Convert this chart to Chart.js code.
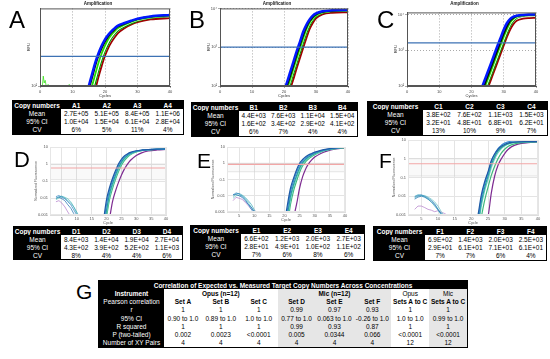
<!DOCTYPE html>
<html><head><meta charset="utf-8">
<script src="https://cdn.jsdelivr.net/npm/chart.js@4/dist/chart.umd.min.js"></script>
<style>
html,body{margin:0;padding:0;background:#fff;}
body{width:550px;height:359px;position:relative;overflow:hidden;font-family:Arial,"Liberation Sans",sans-serif;}
canvas{position:absolute;}
.letter{position:absolute;line-height:1;color:#000;z-index:5;font-family:Arial,"Liberation Sans",sans-serif;}
.grid{position:absolute;display:grid;background:#000;border:1px solid #000;box-sizing:border-box;font-size:6.5px;}
.c{display:flex;align-items:center;justify-content:center;white-space:nowrap;overflow:visible;}
.k{background:#000;color:#fff;}
.w{background:#fff;color:#000;}
.g{background:#e6e6e6;color:#000;}
.b{font-weight:bold;}
</style>
</head><body>
<canvas id="cA"></canvas><canvas id="cB"></canvas><canvas id="cC"></canvas>
<canvas id="cD"></canvas><canvas id="cE"></canvas><canvas id="cF"></canvas>
<div class="letter" style="left:9px;top:8px;font-size:24px">A</div>
<div class="letter" style="left:189px;top:8px;font-size:24px">B</div>
<div class="letter" style="left:377px;top:8px;font-size:24px">C</div>
<div class="letter" style="left:14px;top:149px;font-size:22px">D</div>
<div class="letter" style="left:197px;top:150px;font-size:21px">E</div>
<div class="letter" style="left:379px;top:150px;font-size:21px">F</div>
<div class="letter" style="left:76px;top:281px;font-size:21px">G</div>
<script>
// ---------- Panel A (RFU, log) ----------
const A_cycles = [14,15,16,17,18,19,20,21,22,23,24,26,28,30,34,40];
const A_blue  = [50,100,200,400,700,1100,1600,2100,2600,3100,3600,4200,4800,5400,6200,6800];
const A_black = [40,80,160,330,600,950,1400,1900,2400,2900,3400,4000,4700,5300,6100,6700];
const A_lime  = [30,55,100,200,400,700,1100,1600,2100,2600,3100,3800,4500,5100,5900,6500];
const A_white = [25,40,75,150,300,550,900,1350,1850,2350,2850,3600,4300,4900,5800,6400];
const A_green = [20,35,65,120,250,470,800,1200,1700,2200,2700,3400,4100,4800,5700,6300];
const A_red   = [15,25,45,80,170,330,600,950,1350,1800,2300,3100,3800,4400,5200,5600];
const A_threshold = 580;
const A_noise_x = [0.5,1,1.3,1.6,2,2.5,3,8.5,9,9.5];
const A_noise_y = [60,180,120,140,90,110,60,60,110,60];

// ---------- Panel B ----------
const B_cycles = [19,20,21,22,23,24,25,26,27,28,29,30,32,35,40];
const B_blue  = [40,75,130,240,440,800,1400,2500,3800,5200,6500,7400,8400,8900,9100];
const B_black = [33,60,105,190,350,650,1150,2050,3300,4700,6000,7000,8100,8700,9000];
const B_lime  = [28,50,85,155,290,530,950,1700,2900,4300,5600,6700,7900,8600,8900];
const B_white = [25,44,75,135,250,460,830,1500,2600,4000,5300,6500,7800,8500,8800];
const B_green = [22,38,65,118,215,400,720,1300,2300,3600,5000,6200,7600,8400,8700];
const B_red   = [17,29,50,85,155,290,530,960,1700,2900,4200,5500,7000,7700,7900];
const B_threshold = 1000;

// ---------- Panel C ----------
const C_cycles = [22,23,24,25,26,27,28,29,30,31,32,33,34,36,38,40];
const C_blue  = [46,80,140,245,420,740,1300,2200,3800,5800,7600,8700,9300,9800,10000,10100];
const C_black = [35,60,105,185,320,560,980,1700,2900,4700,6700,8100,9000,9600,9900,10000];
const C_lime  = [29,50,86,150,260,460,800,1400,2400,4000,6000,7600,8700,9500,9800,9900];
const C_white = [24,42,72,125,215,380,660,1150,2000,3400,5300,7000,8300,9300,9700,9800];
const C_green = [21,37,63,110,190,330,580,1000,1750,3000,4800,6600,8000,9100,9500,9600];
const C_red   = [16,28,48,84,146,255,445,780,1360,2350,3800,5400,6700,7700,8000,8100];
const C_threshold = 1620;

// ---------- Panel D (normalized fluorescence, log) ----------
const D_cycles = [19,20,21,22,23,24,25,26,27,28,30,32,34,37,40];
const D_c1 = [0.0005,0.008,0.04,0.14,0.4,1.0,1.9,3.0,3.9,4.8,6.0,6.7,7.1,7.5,7.7];
const D_c2 = [0.0003,0.004,0.028,0.1,0.3,0.8,1.6,2.6,3.6,4.5,5.8,6.6,7.0,7.4,7.6];
const D_c3 = [0.0002,0.002,0.018,0.07,0.22,0.6,1.3,2.2,3.2,4.1,5.5,6.4,6.9,7.3,7.6];
const D_c4 = [0.0001,0.0012,0.012,0.05,0.16,0.45,1.05,1.9,2.8,3.8,5.3,6.3,6.9,7.3,7.5];
const D_c5 = [0.0001,0.0008,0.008,0.035,0.12,0.35,0.85,1.6,2.5,3.5,5.1,6.2,6.8,7.2,7.5];
const D_c6 = [0.00005,0.0001,0.0006,0.006,0.025,0.08,0.22,0.5,0.95,1.6,3.2,4.7,5.8,6.7,7.2];
const D_noise_x = [3,4,5,6,7,8,9,10,11];
const D_n1 = [0.012,0.014,0.011,0.009,0.006,0.004,0.002,0.001,0.0005];
const D_n2 = [0.009,0.012,0.013,0.01,0.007,0.005,0.003,0.0015,0.0007];
const D_n3 = [0.01,0.011,0.009,0.007,0.004,0.0025,0.0012,0.0006,0.0003];
const D_n4 = [0.008,0.01,0.012,0.011,0.009,0.006,0.003,0.0012,0.0005];
const D_n5 = [0.006,0.007,0.005,0.003,0.0015,0.0008,0.0004,0.0002,0.0001];
const D_threshold = 0.58;

// ---------- Panel E ----------
const E_cycles = [20,21,22,23,24,25,26,27,28,29,30,32,34,37,40];
const E_c1 = [0.0002,0.003,0.03,0.12,0.4,1.0,1.7,2.5,3.3,4.0,4.8,6.2,7.4,8.8,9.8];
const E_c2 = [0.0001,0.0015,0.018,0.08,0.28,0.75,1.4,2.1,2.9,3.6,4.4,5.9,7.1,8.6,9.6];
const E_c3 = [0.0001,0.0008,0.01,0.05,0.18,0.52,1.1,1.8,2.5,3.2,4.0,5.5,6.8,8.4,9.5];
const E_c4 = [0.00005,0.0004,0.006,0.035,0.13,0.4,0.9,1.5,2.2,2.9,3.7,5.2,6.6,8.2,9.4];
const E_c5 = [0.00005,0.0002,0.003,0.02,0.08,0.28,0.7,1.25,1.9,2.6,3.4,5.0,6.4,8.0,9.2];
const E_c6 = [0.00002,0.00005,0.0002,0.0005,0.003,0.03,0.15,0.45,0.95,1.6,2.4,4.0,5.6,7.5,8.8];
const E_noise_x = [3,4,5,6,7,8,9,10,11];
const E_n1 = [0.011,0.015,0.013,0.009,0.006,0.003,0.0015,0.0008,0.0004];
const E_n2 = [0.009,0.013,0.014,0.011,0.008,0.005,0.003,0.0014,0.0006];
const E_n3 = [0.012,0.012,0.01,0.008,0.005,0.003,0.002,0.001,0.0005];
const E_n4 = [0.007,0.01,0.011,0.01,0.007,0.004,0.002,0.0011,0.0004];
const E_n5 = [0.005,0.008,0.007,0.006,0.004,0.0025,0.0015,0.0012,0.001];
const E_threshold = 0.85;

// ---------- Panel F ----------
const F_cycles = [21,22,23,24,25,26,27,28,29,30,31,32,34,37,40];
const F_c1 = [0.0002,0.001,0.012,0.06,0.2,0.8,1.8,3.2,4.6,5.8,6.8,7.4,8.0,8.2,8.3];
const F_c2 = [0.0001,0.0006,0.008,0.045,0.17,0.7,1.8,3.5,5.2,6.8,7.9,8.6,9.2,9.5,9.6];
const F_c3 = [0.0001,0.0004,0.005,0.03,0.12,0.5,1.3,2.6,4.0,5.3,6.4,7.1,7.8,8.1,8.2];
const F_c4 = [0.00005,0.0002,0.003,0.02,0.08,0.35,1.0,2.1,3.5,4.8,6.0,6.8,7.6,8.0,8.2];
const F_c5 = [0.00003,0.0001,0.0008,0.006,0.03,0.13,0.4,1.0,2.0,3.2,4.5,5.5,6.8,7.6,8.0];
const F_c6 = [0.00001,0.00002,0.0001,0.0004,0.0008,0.015,0.12,0.45,1.0,1.9,3.1,4.3,6.0,7.2,7.8];
const F_noise_x = [3,4,5,6,7,8,9,10,11,12,13];
const F_n1 = [0.009,0.011,0.012,0.01,0.008,0.006,0.004,0.002,0.0012,0.0006,0.0003];
const F_n2 = [0.01,0.012,0.011,0.009,0.007,0.005,0.003,0.0018,0.001,0.0005,0.0002];
const F_n3 = [0.007,0.009,0.01,0.009,0.007,0.005,0.0035,0.002,0.0011,0.0007,0.0004];
const F_n4 = [0.008,0.01,0.011,0.011,0.009,0.007,0.005,0.003,0.0015,0.0008,0.0004];
const F_n5 = [0.002,0.003,0.003,0.0025,0.002,0.0018,0.0015,0.0017,0.0014,0.0012,0.0009];
const F_threshold = 0.54;

// ---------- Tables ----------
const A_heads = ['A1','A2','A3','A4'];
const A_mean = ['2.7E+05','5.1E+05','8.4E+05','1.1E+06'];
const A_ci   = ['1.0E+04','1.5E+04','6.1E+04','2.8E+04'];
const A_cv   = ['6%','5%','11%','4%'];
const B_heads = ['B1','B2','B3','B4'];
const B_mean = ['4.4E+03','7.6E+03','1.1E+04','1.5E+04'];
const B_ci   = ['1.6E+02','3.4E+02','2.9E+02','4.1E+02'];
const B_cv   = ['6%','7%','4%','4%'];
const C_heads = ['C1','C2','C3','C4'];
const C_mean = ['3.8E+02','7.6E+02','1.1E+03','1.5E+03'];
const C_ci   = ['3.2E+01','4.8E+01','6.8E+01','6.2E+01'];
const C_cv   = ['13%','10%','9%','7%'];
const D_heads = ['D1','D2','D3','D4'];
const D_mean = ['8.4E+03','1.4E+04','1.9E+04','2.7E+04'];
const D_ci   = ['4.3E+02','3.9E+02','5.2E+02','1.1E+03'];
const D_cv   = ['8%','4%','4%','6%'];
const E_heads = ['E1','E2','E3','E4'];
const E_mean = ['6.6E+02','1.2E+03','2.0E+03','2.7E+03'];
const E_ci   = ['2.8E+01','4.9E+01','1.0E+02','1.1E+02'];
const E_cv   = ['7%','6%','8%','6%'];
const F_heads = ['F1','F2','F3','F4'];
const F_mean = ['6.9E+02','1.4E+03','2.0E+03','2.5E+03'];
const F_ci   = ['2.9E+01','6.1E+01','7.1E+01','6.1E+01'];
const F_cv   = ['7%','7%','6%','4%'];

const G_title = 'Correlation of Expected vs. Measured Target Copy Numbers Across Concentrations';
const G_sets = ['Set A','Set B','Set C','Set D','Set E','Set F','Sets A to C','Sets A to C'];
const G_r    = ['1','1','1','0.99','0.97','0.93','1','1'];
const G_ci   = ['0.90 to 1.0','0.89 to 1.0','1.0 to 1.0','0.77 to 1.0','0.063 to 1.0','-0.26 to 1.0','1.0 to 1.0','0.99 to 1.0'];
const G_r2   = ['1','1','1','0.99','0.93','0.87','1','1'];
const G_p    = ['0.002','0.0023','<0.0001','0.005','0.0344','0.066','<0.0001','<0.0001'];
const G_n    = ['4','4','4','4','4','4','12','12'];

// ---------- plumbing ----------
const framePlugin = {id:'frame', afterDatasetsDraw(c, args, o){
  if(!o || !o.color) return;
  const a=c.chartArea, x=c.ctx; x.save(); x.strokeStyle=o.color; x.lineWidth=o.width||1;
  x.strokeRect(a.left+0.5,a.top+0.5,a.right-a.left-1,a.bottom-a.top-1); x.restore();
}};
Chart.register(framePlugin);

function pts(xs, ys){ return xs.map((x,i)=>({x:x,y:ys[i]})); }
function place(id, g){ const c=document.getElementById(id); c.width=g.w; c.height=g.h; c.style.left=g.left+'px'; c.style.top=g.top+'px'; return c; }
const sup = {2:'²',3:'³',4:'⁴'};

function topChart(id, g, cycles, series, thr, tickVals, noise){
  const colors = ['#0018ff','#0a0a0a','#22e000','#ffffff','#009a00','#a00000'];
  const widths = [2.5,1.8,1.8,1.3,1.8,1.8];
  const ds = [{data:[{x:0,y:thr},{x:40,y:thr}], borderColor:'#3d72b4', borderWidth:1.3, pointRadius:0}];
  series.forEach((s,i)=>ds.push({data:pts(cycles,s), borderColor:colors[i], borderWidth:widths[i], pointRadius:0, cubicInterpolationMode:'monotone'}));
  if(noise) ds.push({data:pts(noise[0],noise[1]), borderColor:'#22e000', borderWidth:0.7, pointRadius:0});
  new Chart(place(id,g), {type:'line', data:{datasets:ds}, options:{
    responsive:false, animation:false, devicePixelRatio:1,
    layout:{padding:{left:g.pl, right:g.pr, top:g.pt, bottom:0}},
    plugins:{legend:{display:false}, tooltip:{enabled:false},
      title:{display:true, text:'Amplification', font:{size:4.5, weight:'bold'}, color:'#222', padding:{top:g.tt, bottom:g.tb}},
      frame:{color:'#555', width:1}},
    scales:{
      x:{type:'linear', min:0, max:40, afterFit:s=>{s.height=g.xh;},
        ticks:{stepSize:10, font:{size:4}, color:'#444', padding:1, maxRotation:0},
        grid:{color:'#aaa', tickLength:2}, border:{dash:[1,2], color:'#555'},
        title:{display:true, text:'Cycles', font:{size:4}, color:'#333', padding:0}},
      y:{type:'logarithmic', min:100, max:g.ymax, afterFit:s=>{s.width=g.yw;},
        afterBuildTicks:s=>{s.ticks=tickVals.map(v=>({value:v}));},
        ticks:{font:{size:4}, color:'#444', padding:1, callback:v=>'10'+sup[Math.round(Math.log10(v))]},
        grid:{color:'#aaa', tickLength:2}, border:{dash:[1,2], color:'#555'},
        title:{display:true, text:'RFU', font:{size:4}, color:'#333', padding:0}}
    }}});
}

function botChart(id, g, cycles, series, thr, bandLow, noiseX, noise){
  const colors = ['#1d5aa6','#3b8ed4','#2a9d96','#62cfc4','#3fb87a','#7d2b91'];
  const ncolors = ['#2a7fc0','#3aa7b8','#1f6fb0','#5bc2c0','#b07ac8'];
  const ds = [{data:[{x:1,y:thr},{x:40,y:thr}], borderColor:'#f2a6a6', borderWidth:1.2, pointRadius:0}];
  series.forEach((s,i)=>ds.push({data:pts(cycles,s), borderColor:colors[i], borderWidth:1.2, pointRadius:0, cubicInterpolationMode:'monotone'}));
  noise.forEach((s,i)=>ds.push({data:pts(noiseX,s), borderColor:ncolors[i], borderWidth:0.7, pointRadius:0}));
  ds.push({data:[{x:1,y:1},{x:40,y:1}], borderColor:'#d6d6d6', borderWidth:0.6, pointRadius:0, fill:'+1', backgroundColor:'rgba(0,0,0,0.025)', order:10});
  ds.push({data:[{x:1,y:bandLow},{x:40,y:bandLow}], borderColor:'#d6d6d6', borderWidth:0.6, pointRadius:0, order:11});
  new Chart(place(id,g), {type:'line', data:{datasets:ds}, options:{
    responsive:false, animation:false, devicePixelRatio:1,
    layout:{padding:{left:g.pl, right:g.pr, top:g.pt, bottom:0}},
    plugins:{legend:{display:false}, tooltip:{enabled:false}, frame:{color:'#e6e6e6', width:1}},
    scales:{
      x:{type:'linear', min:1, max:40, afterFit:s=>{s.height=g.xh;},
        afterBuildTicks:s=>{s.ticks=[5,10,15,20,25,30,35,40].map(v=>({value:v}));},
        ticks:{font:{size:4}, color:'#555', padding:1, maxRotation:0},
        grid:{color:'#e4e4e4', tickLength:0, drawTicks:false}, border:{color:'#ddd'},
        title:{display:true, text:'Cycle', font:{size:4}, color:'#555', padding:0}},
      y:{type:'logarithmic', min:0.001, max:10, afterFit:s=>{s.width=g.yw;},
        afterBuildTicks:s=>{s.ticks=[0.001,0.01,0.1,1,10].map(v=>({value:v}));},
        ticks:{font:{size:4}, color:'#555', padding:2, callback:v=>String(v)},
        grid:{color:'#e4e4e4', drawTicks:false}, border:{color:'#ddd'},
        title:{display:true, text:'Normalized Fluorescence', font:{size:3.5}, color:'#555', padding:0}}
    }}});
}

topChart('cA', {left:20,top:0,w:160,h:98,pl:6,pr:10,pt:0,tt:1,tb:2,xh:12,yw:14,ymax:10000},
  A_cycles, [A_blue,A_black,A_lime,A_white,A_green,A_red], A_threshold, [100], [A_noise_x,A_noise_y]);
topChart('cB', {left:195,top:0,w:160,h:98,pl:11,pr:7,pt:0,tt:1,tb:2,xh:12,yw:14,ymax:10000},
  B_cycles, [B_blue,B_black,B_lime,B_white,B_green,B_red], B_threshold, [100,1000,10000], null);
topChart('cC', {left:380,top:0,w:165,h:98,pl:13,pr:9,pt:0,tt:1,tb:6,xh:12,yw:14,ymax:11500},
  C_cycles, [C_blue,C_black,C_lime,C_white,C_green,C_red], C_threshold, [100,1000,10000], null);

botChart('cD', {left:20,top:140,w:155,h:85,pl:14,pr:9,pt:7,xh:10,yw:16},
  D_cycles, [D_c1,D_c2,D_c3,D_c4,D_c5,D_c6], D_threshold, 0.12, D_noise_x, [D_n1,D_n2,D_n3,D_n4,D_n5]);
botChart('cE', {left:200,top:140,w:155,h:82,pl:11,pr:10,pt:7,xh:10,yw:16},
  E_cycles, [E_c1,E_c2,E_c3,E_c4,E_c5,E_c6], E_threshold, 0.3, E_noise_x, [E_n1,E_n2,E_n3,E_n4,E_n5]);
botChart('cF', {left:380,top:135,w:165,h:90,pl:12,pr:7,pt:5,xh:10,yw:16},
  F_cycles, [F_c1,F_c2,F_c3,F_c4,F_c5,F_c6], F_threshold, 0.12, F_noise_x, [F_n1,F_n2,F_n3,F_n4,F_n5]);

// ---------- HTML tables ----------
function cell(parent, text, cls, span){
  const d=document.createElement('div'); d.className='c '+cls; d.textContent=text;
  if(span) d.style.gridColumn='span '+span; parent.appendChild(d); return d;
}
function copyTable(left, top, w, h, labelW, heads, mean, ci, cv){
  const g=document.createElement('div'); g.className='grid';
  Object.assign(g.style,{left:left+'px',top:top+'px',width:w+'px',height:h+'px',
    gridTemplateColumns:labelW+'px repeat(4,1fr)', gridTemplateRows:'repeat(4,1fr)'});
  cell(g,'Copy numbers','k b'); heads.forEach(t=>cell(g,t,'k b'));
  [['Mean',mean],['95% CI',ci],['CV',cv]].forEach(r=>{cell(g,r[0],'k'); r[1].forEach(t=>cell(g,t,'w'));});
  document.body.appendChild(g);
}
copyTable(12,100,172,35,48,A_heads,A_mean,A_ci,A_cv);
copyTable(191,102,167,35,47,B_heads,B_mean,B_ci,B_cv);
copyTable(367,101,181,35,55,C_heads,C_mean,C_ci,C_cv);
copyTable(13,226,170,34,47,D_heads,D_mean,D_ci,D_cv);
copyTable(190,225,175,35,50,E_heads,E_mean,E_ci,E_cv);
copyTable(373,226,174,35,51,F_heads,F_mean,F_ci,F_cv);

(function(){
  const g=document.createElement('div'); g.className='grid';
  Object.assign(g.style,{left:'98px',top:'280px',width:'370px',height:'68px',
    gridTemplateColumns:'65px repeat(8,1fr)', gridTemplateRows:'repeat(8,1fr)'});
  cell(g,G_title,'k b',9);
  cell(g,'Instrument','k b'); cell(g,'Opus (n=12)','w b',3); cell(g,'Mic (n=12)','g b',3); cell(g,'Opus','w'); cell(g,'Mic','g');
  const bg = i => (i>=3 && i<=5) || i===7 ? 'g' : 'w';
  cell(g,'Pearson correlation','k'); G_sets.forEach((t,i)=>cell(g,t,bg(i)+' b'));
  [['r',G_r],['95% CI',G_ci],['R squared',G_r2],['P (two-tailed)',G_p],['Number of XY Pairs',G_n]].forEach(r=>{
    cell(g,r[0],'k'); r[1].forEach((t,i)=>cell(g,t,bg(i)));
  });
  document.body.appendChild(g);
})();
</script>
</body></html>
